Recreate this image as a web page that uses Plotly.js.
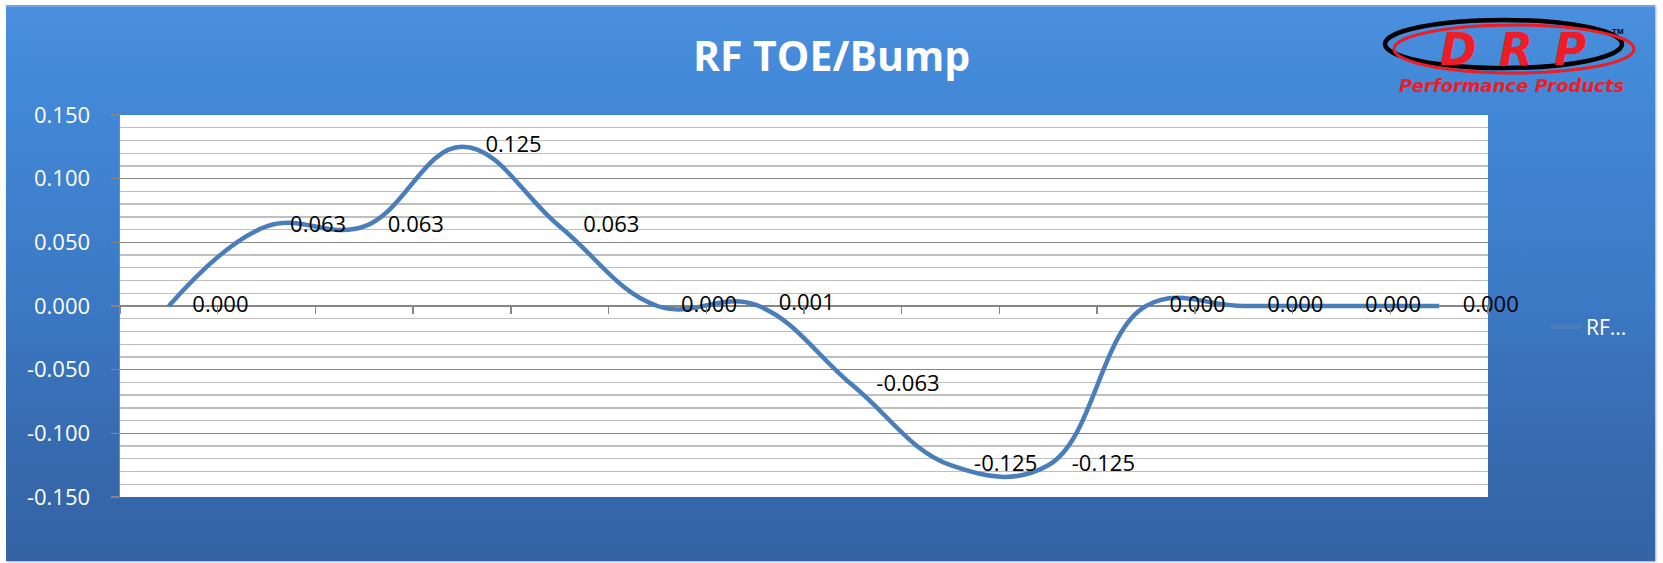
<!DOCTYPE html>
<html>
<head>
<meta charset="utf-8">
<script src="https://cdn.plot.ly/plotly-3.0.1.min.js"></script>
<style>
  html, body { margin: 0; padding: 0; background: #ffffff; width: 1663px; height: 563px; overflow: hidden; }
  #bg { position: absolute; left: 6px; top: 5px; width: 1649px; height: 556px;
        background: linear-gradient(to bottom, #4b8fde 0%, #438ad9 12%, #3c7ac6 50%, #3668ab 85%, #3463a6 100%);
        box-shadow: 1px 1px 2px rgba(0,0,0,0.35);
        border-top: 2px solid #6aa6ea; box-sizing: border-box; }
  #chart { position: absolute; left: 0; top: 0; width: 1663px; height: 563px; }
</style>
</head>
<body>
<div id="bg"></div>
<div id="chart"></div>
<script>
// ---- data ----
const categories = ['1','2','3','4','5','6','7','8','9','10','11','12','13','14'];
const toeValues = [0, 0.0625, 0.0625, 0.125, 0.0625, 0, 0.001, -0.0625, -0.125, -0.125, 0, 0, 0, 0];
const yTickValues = [-0.15, -0.10, -0.05, 0, 0.05, 0.10, 0.15];
const yTickLabels = ['-0.150', '-0.100', '-0.050', '0.000', '0.050', '0.100', '0.150'];
const seriesName = 'RF...';
const chartTitle = 'RF TOE/Bump';

// ---- layout helpers (pixel -> paper) ----
const L = 120, R = 1488, T = 115, B = 497;
const PX = x => (x - L) / (R - L);
const PY = y => (B - y) / (B - T);

const labelText = toeValues.map(v => v.toFixed(3));
const fontFam = '"Open Sans", "Liberation Sans", sans-serif';

const lineTrace = {
  type: 'scatter', mode: 'lines', x: categories, y: toeValues, name: seriesName,
  line: { color: '#4a7ebb', width: 4.5, shape: 'spline', smoothing: 1.15 },
  showlegend: true, hoverinfo: 'skip'
};
const textTrace = {
  type: 'scatter', mode: 'markers+text', x: categories, y: toeValues,
  text: labelText, textposition: 'middle right',
  textfont: { family: fontFam, size: 22, color: '#000000' },
  marker: { size: 36, color: 'rgba(0,0,0,0)' },
  cliponaxis: false, showlegend: false, hoverinfo: 'skip'
};

const red = '#ee1c24';
const ann = (text, x, y, size, color, family) => ({
  text, xref: 'paper', yref: 'paper', x: PX(x), y: PY(y), xanchor: 'center', yanchor: 'middle',
  showarrow: false, font: { family, size, color }
});
const logoFam = '"DejaVu Sans", sans-serif';

const layout = {
  width: 1663, height: 563,
  margin: { l: L, r: 1663 - R, t: T, b: 563 - B, pad: 0 },
  paper_bgcolor: 'rgba(0,0,0,0)',
  plot_bgcolor: '#ffffff',
  font: { family: fontFam, color: '#ffffff' },
  title: {
    text: chartTitle, xref: 'container', x: 0.5, xanchor: 'center',
    yref: 'container', y: 1 - 57 / 563, yanchor: 'middle',
    font: { family: fontFam, size: 41, weight: 700, color: '#ffffff' }
  },
  xaxis: {
    type: 'category', range: [-0.5, 13.5], anchor: 'free', position: 0.5,
    tickson: 'boundaries', ticks: 'outside', ticklen: 7, tickwidth: 1.5, tickcolor: '#868686',
    showticklabels: false, showgrid: false, zeroline: false, showline: false, fixedrange: true
  },
  yaxis: {
    range: [-0.15, 0.15], tickmode: 'array', tickvals: yTickValues, ticktext: yTickLabels,
    tickfont: { family: fontFam, size: 22, color: '#ffffff' },
    ticks: 'outside', ticklen: 8, tickwidth: 1.5, tickcolor: '#868686',
    ticklabelstandoff: 16,
    showgrid: true, gridcolor: '#868686', gridwidth: 1.5,
    zeroline: true, zerolinecolor: '#868686', zerolinewidth: 1.5,
    showline: true, linecolor: '#868686', linewidth: 1.5,
    minor: { tick0: 0, dtick: 0.01, showgrid: true, gridcolor: '#bfbfbf', gridwidth: 1.3, ticks: '' },
    fixedrange: true
  },
  legend: {
    x: PX(1546), xanchor: 'left', y: PY(327), yanchor: 'middle',
    bgcolor: 'rgba(0,0,0,0)', borderwidth: 0,
    font: { family: fontFam, size: 21, color: '#ffffff' }
  },
  shapes: [
    { type: 'circle', xref: 'paper', yref: 'paper', x0: PX(1385), x1: PX(1622), y0: PY(68), y1: PY(20),
      line: { color: '#000000', width: 4.5 } },
    { type: 'circle', xref: 'paper', yref: 'paper', x0: PX(1394), x1: PX(1634), y0: PY(73), y1: PY(25),
      line: { color: red, width: 3 } }
  ],
  annotations: [
    ann('<b><i>D</i></b>', 1458, 49, 44, red, logoFam),
    ann('<b><i>R</i></b>', 1516, 49, 44, red, logoFam),
    ann('<b><i>P</i></b>', 1570, 49, 44, red, logoFam),
    ann('<b>TM</b>', 1618, 32, 8, '#000000', '"Liberation Sans", sans-serif'),
    ann('<b><i>Performance Products</i></b>', 1512, 85, 18, red, logoFam)
  ],
  hovermode: false
};

Plotly.newPlot('chart', [lineTrace, textTrace], layout, { displayModeBar: false, staticPlot: true });
</script>
</body>
</html>
